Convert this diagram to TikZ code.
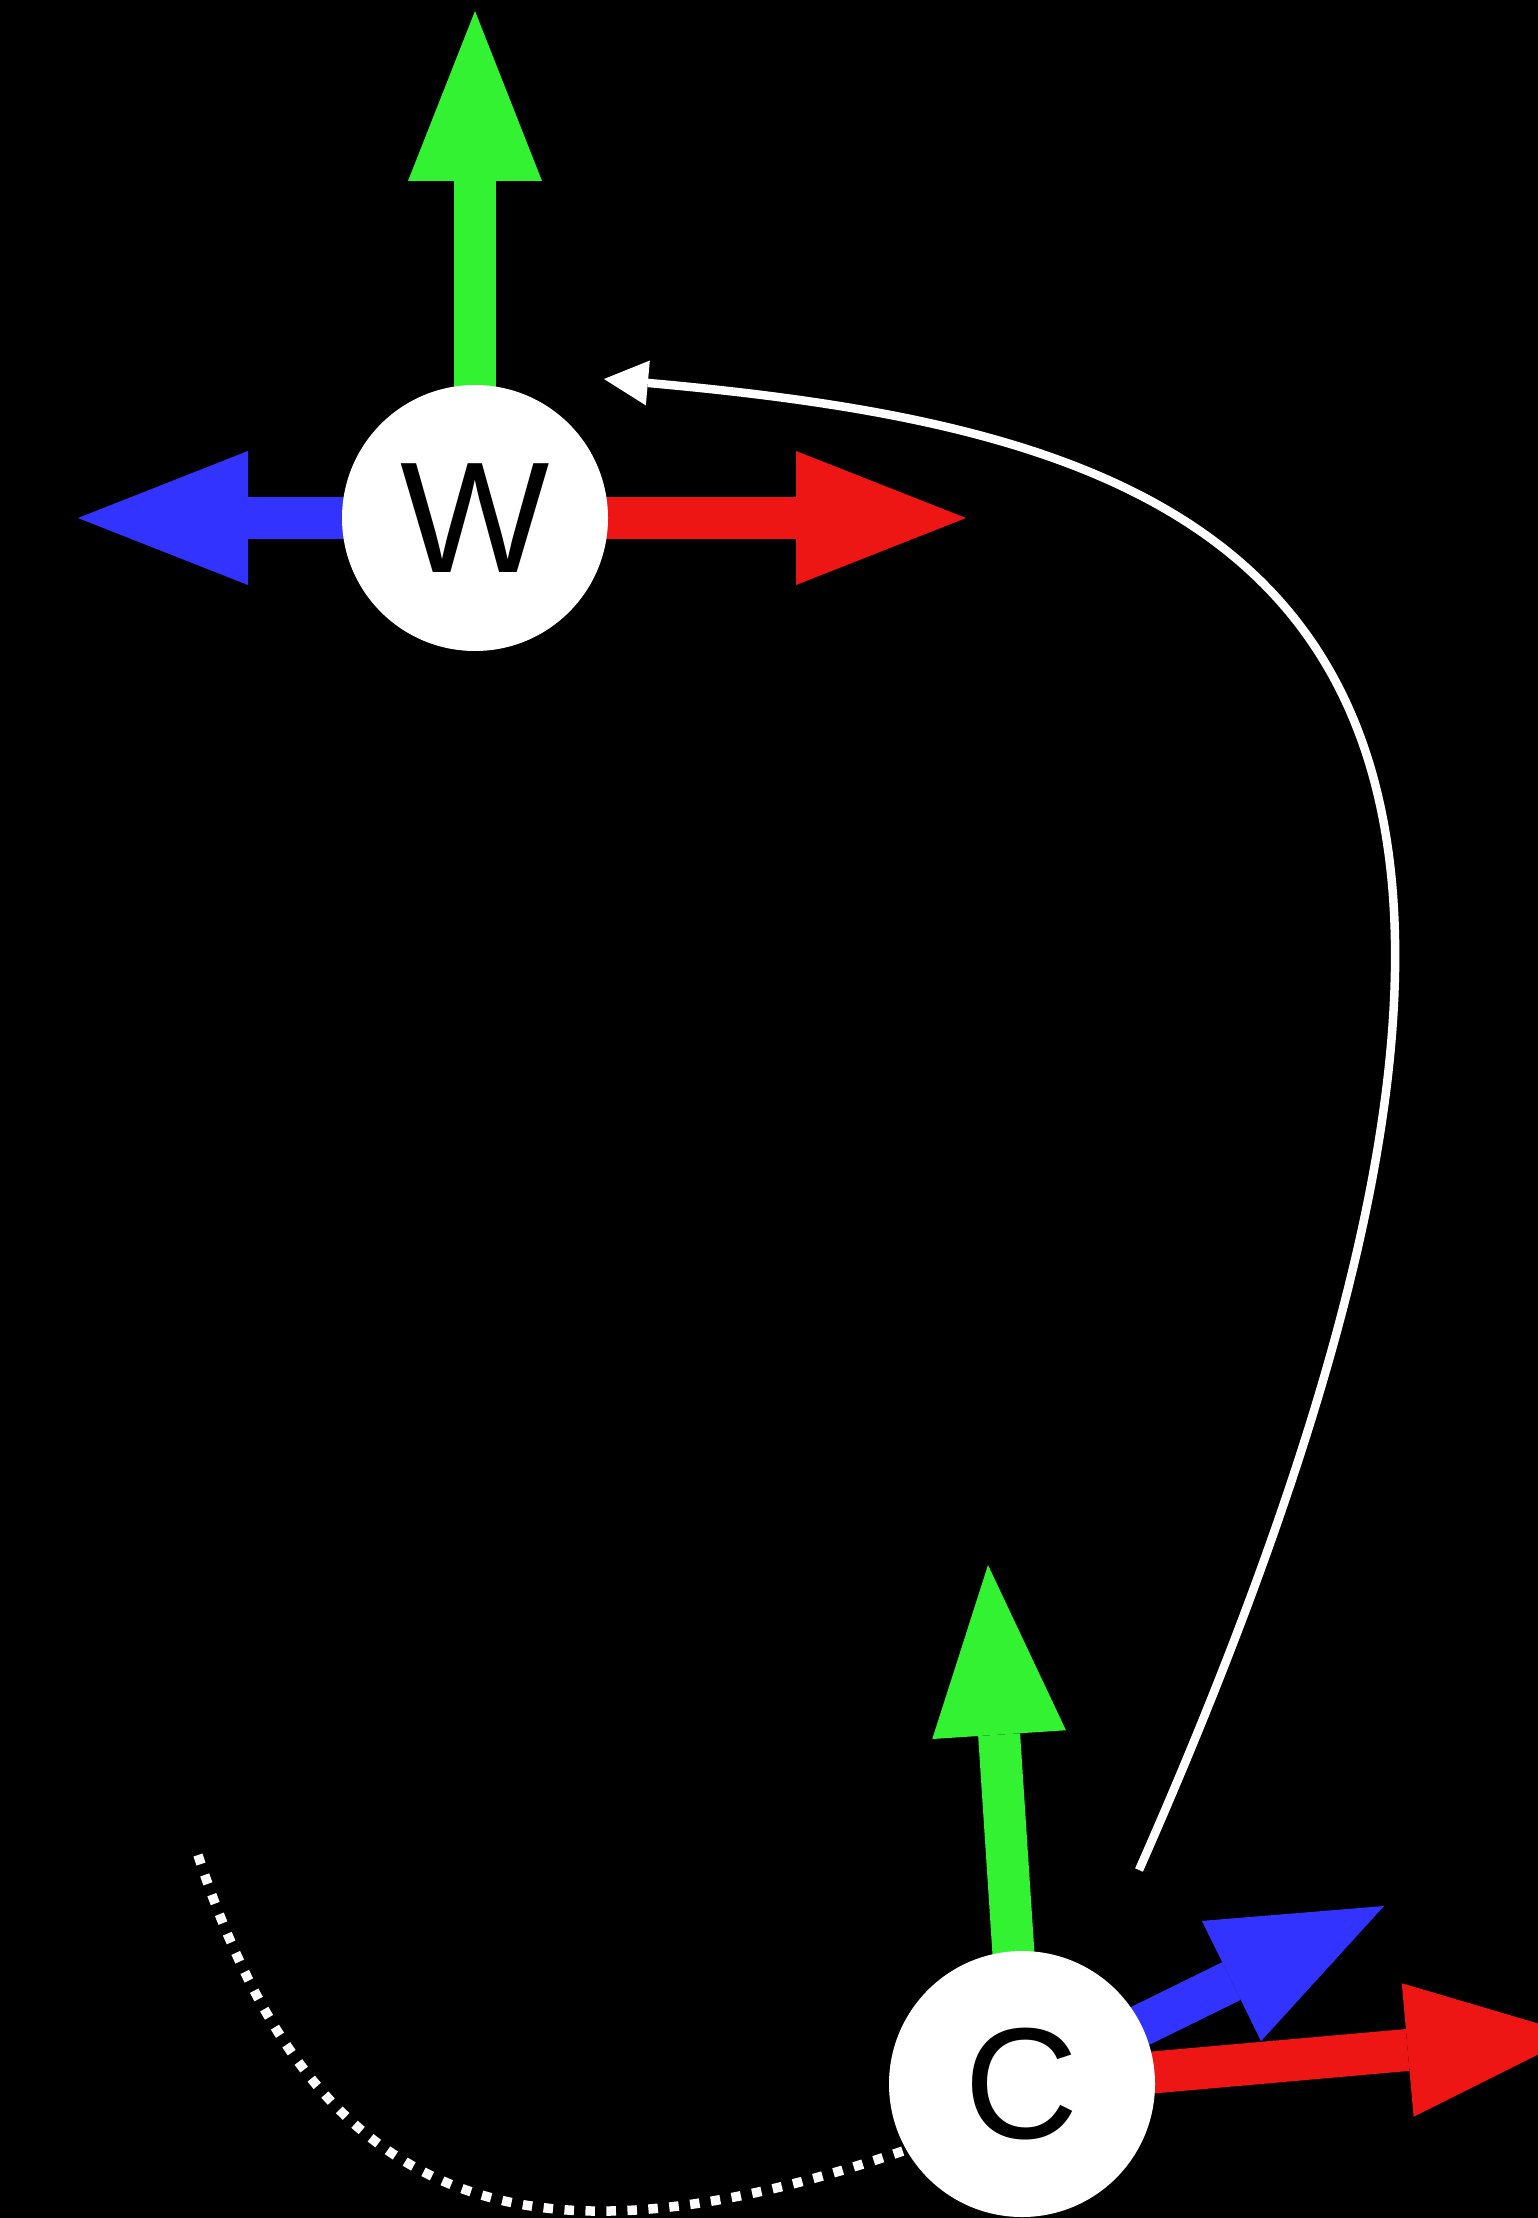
\documentclass[tikz,border=0pt]{standalone}
\usepackage{fontspec}
\setmainfont{Liberation Sans}
\usetikzlibrary{arrows.meta}
\definecolor{xcol}{RGB}{238,21,21}
\definecolor{ycol}{RGB}{50,242,50}
\definecolor{zcol}{RGB}{51,51,255}
\begin{document}
\begin{tikzpicture}[x=0.1mm,y=-0.1mm,
  joint/.style={circle,fill=white,minimum size=26.6mm,inner sep=0pt,
                font=\fontsize{45}{54}\selectfont},
  ax/.style={line width=4.2mm,draw=#1,
             -{Triangle[width=13.4mm,length=17mm,line width=0pt]}},
  swing/.style={line width=0.85mm,draw=white,
                -{Triangle[width=4.5mm,length=4.4mm,line width=0pt]}},
  spin/.style={line width=0.95mm,draw=white,dash pattern=on 0.95mm off 1.15mm}
]
\fill[black] (0,0) rectangle (1538,2218);
\useasboundingbox (0,0) rectangle (1538,2218);
\clip (0,0) rectangle (1538,2218);

% frame centres and axis tips
\coordinate (w) at (475,518);
\coordinate (c) at (1022,2084);
\coordinate (wx) at (966,518);
\coordinate (wy) at (475,11);
\coordinate (wz) at (78,518);
\coordinate (cx) at (1577,2035);
\coordinate (cy) at (988,1565);
\coordinate (cz) at (1384,1906);

% rotation marks
\coordinate (sfrom) at (198,1855);
\coordinate (sto) at (906,2150);
\draw[spin] (sfrom) .. controls (316,2214) and (526,2279) .. (sto);
\coordinate (tfrom) at (1139,1870);
\coordinate (tto) at (604,379);
\draw[swing] (tfrom) .. controls (1700,600) and (1250,437) .. (tto);

% axes
\draw[ax=ycol] (w) -- (wy);
\draw[ax=zcol] (w) -- (wz);
\draw[ax=xcol] (w) -- (wx);
\draw[ax=ycol] (c) -- (cy);
\draw[ax=zcol] (c) -- (cz);
\draw[ax=xcol] (c) -- (cx);

\node[joint] (W) at (w) {W};
\node[joint] (C) at (c) {C};
\end{tikzpicture}
\end{document}
